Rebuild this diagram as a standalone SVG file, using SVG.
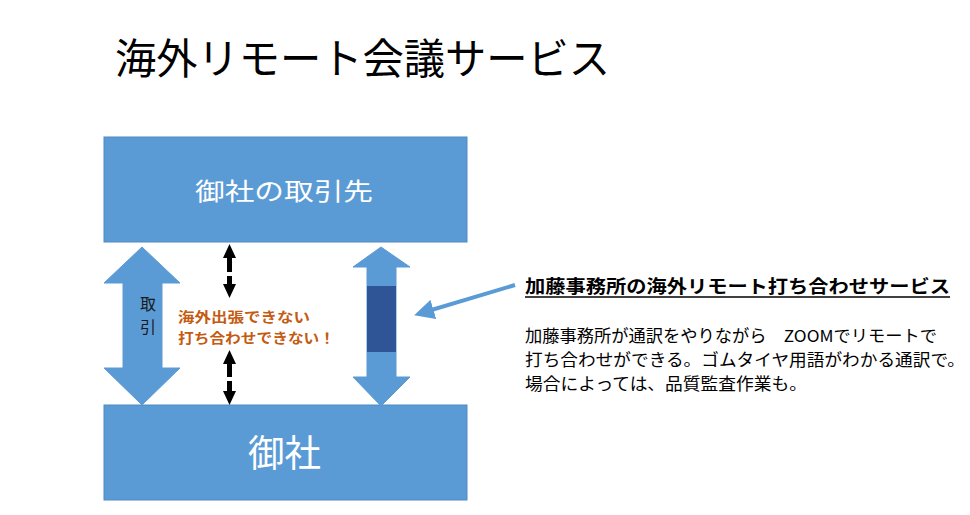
<svg xmlns="http://www.w3.org/2000/svg" width="970" height="515" viewBox="0 0 970 515">
<defs>
<style>
.box{fill:#5B9BD5;stroke:#4F8AC0;stroke-width:1}
.arr{fill:#5B9BD5;stroke:#5B9BD5;stroke-width:1}
.jp{font-family:"Noto Sans CJK JP","Noto Sans",sans-serif}
.wt{fill:#FFFFFF}
.blk{fill:#000}
.body{font-size:16.5px;fill:#000}
</style>
<marker id="ph" viewBox="0 0 10 10" refX="8" refY="5" markerWidth="5" markerHeight="5" orient="auto" markerUnits="strokeWidth">
<path d="M0,0 L10,5 L0,10 z" fill="#5B9BD5"/>
</marker>
</defs>
<rect width="970" height="515" fill="#FFFFFF"/>
<text class="jp" x="115" y="74" font-size="42" fill="#000" textLength="495" lengthAdjust="spacingAndGlyphs">海外リモート会議サービス</text>

<g id="partner">
<rect class="box" x="104" y="137" width="363" height="105"/>
<text class="jp wt" x="195" y="200" font-size="24" textLength="178" lengthAdjust="spacingAndGlyphs">御社の取引先</text>
</g>

<g id="company">
<rect class="box" x="104" y="405" width="363" height="95"/>
<text class="jp wt" x="248" y="467" font-size="37" textLength="73" lengthAdjust="spacingAndGlyphs">御社</text>
</g>

<g id="trade">
<path class="arr" d="M142,247 L180,283 L162,283 L162,368 L180,368 L142,405 L104,368 L123,368 L123,283 L104,283 Z"/>
<text class="jp" x="148" y="310" font-size="16" fill="#1A1A1A" text-anchor="middle">取</text>
<text class="jp" x="148" y="333" font-size="16" fill="#1A1A1A" text-anchor="middle">引</text>
</g>

<g id="blocked">
<text class="jp" x="178" y="322" font-size="13.5" font-weight="bold" fill="#C55A11" textLength="132" lengthAdjust="spacingAndGlyphs">海外出張できない</text>
<text class="jp" x="178" y="343" font-size="13.5" font-weight="bold" fill="#C55A11" textLength="157" lengthAdjust="spacingAndGlyphs">打ち合わせできない！</text>
</g>

<g id="service-arrow">
<path class="arr" d="M381,247 L410,267 L396,267 L396,377 L410,377 L381,406 L353,377 L367,377 L367,267 L353,267 Z"/>
<rect x="367" y="286" width="29" height="66" fill="#2F5597"/>
</g>

<g id="service-text">
<text class="jp" x="525" y="293" font-size="18" font-weight="bold" fill="#000" textLength="425" lengthAdjust="spacingAndGlyphs">加藤事務所の海外リモート打ち合わせサービス</text>
<line x1="525" y1="297" x2="950" y2="297" stroke="#000" stroke-width="1.3"/>
<text class="jp body" x="525" y="342" textLength="412" lengthAdjust="spacingAndGlyphs">加藤事務所が通訳をやりながら　ZOOMでリモートで</text>
<text class="jp body" x="525" y="366" textLength="440" lengthAdjust="spacingAndGlyphs">打ち合わせができる。ゴムタイヤ用語がわかる通訳で。</text>
<text class="jp body" x="525" y="390" textLength="282" lengthAdjust="spacingAndGlyphs">場合によっては、品質監査作業も。</text>
</g>

<g id="connectors">
<path class="blk" d="M229.5,244 L236,258 L232,258 L232,272 L227,272 L227,258 L223,258 Z"/>
<path class="blk" d="M227,276 L232,276 L232,284 L236,284 L229.5,298 L223,284 L227,284 Z"/>
<path class="blk" d="M229.5,350 L236,364 L232,364 L232,377 L227,377 L227,364 L223,364 Z"/>
<path class="blk" d="M227,381 L232,381 L232,391 L236,391 L229.5,405 L223,391 L227,391 Z"/>
<line x1="515" y1="285" x2="418" y2="314" stroke="#5B9BD5" stroke-width="4" marker-end="url(#ph)"/>
</g>
</svg>
